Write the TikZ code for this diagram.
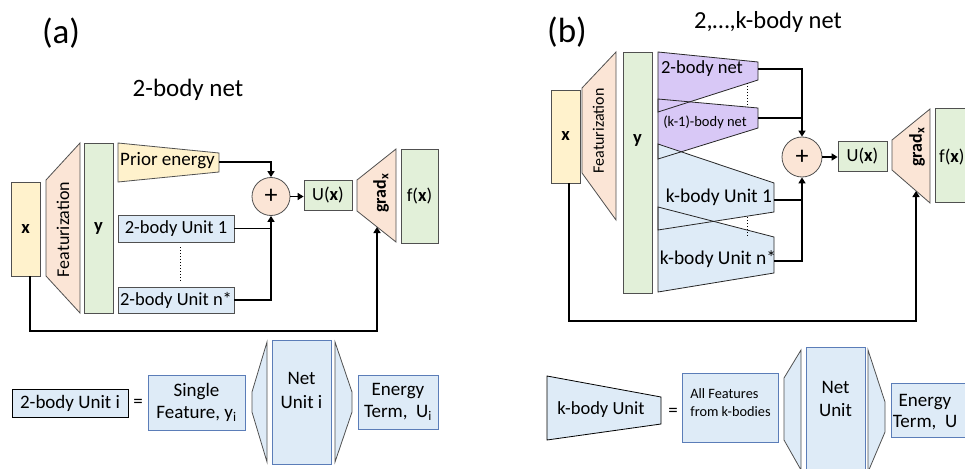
\documentclass[tikz,border=0pt]{standalone}
\usepackage{fontspec}
\setmainfont{Carlito}
\usetikzlibrary{arrows.meta,calc}
\definecolor{cyel}{HTML}{FFF2CC}
\definecolor{cpink}{HTML}{FBE5D6}
\definecolor{cgreen}{HTML}{E2F0D9}
\definecolor{cblue}{HTML}{DEEBF7}
\definecolor{cpurp}{HTML}{D8C8F6}
\definecolor{cbord}{HTML}{505050}
\definecolor{cbblue}{HTML}{5B7DB8}
\newcommand{\fsz}[2]{\fontsize{#1}{#2}\selectfont}
\tikzset{
  box/.style={draw=cbord, line width=0.8pt, inner sep=0pt, anchor=center, font=\fsz{18.5}{22}},
  shp/.style={draw=cbord, line width=0.8pt},
  conn/.style={line width=1.6pt, black},
  arr/.style={conn, -{Triangle[length=6pt,width=7pt]}},
  lbl/.style={inner sep=0pt, anchor=center, font=\fsz{18.5}{22}},
  plus/.style={circle, draw=cbord, line width=0.8pt, fill=cpink, inner sep=0pt, font=\fsz{26}{26}},
  dots/.style={dotted, line width=1pt}
}
\begin{document}
\begin{tikzpicture}[x=1pt,y=-1pt]
\useasboundingbox (0,0) rectangle (965,468);
\clip (0,0) rectangle (965,468);
% ---------- titles
\node[lbl, font=\fsz{35}{40}] (ta) at (61,33) {(a)};
\node[lbl, font=\fsz{25}{30}] (tna) at (188,90) {2-body net};
\node[lbl, font=\fsz{35}{40}] (tb) at (567,32) {(b)};
\node[lbl, font=\fsz{24.5}{30}] (tnb) at (768,22) {2,…,k-body net};
% ---------- panel (a)
\node[box, fill=cyel, minimum width=29, minimum height=94] (xa) at (25.5,229) {\textbf{x}};
\filldraw[shp, fill=cpink] (46,180) -- (80,143) -- (80,313) -- (46,276) -- cycle;
\node[lbl, rotate=90, font=\fsz{18}{22}] (feata) at (63,229.5) {Featurization};
\node[box, fill=cgreen, minimum width=29, minimum height=170] (ya) at (98.5,228) {\textbf{y}};
\filldraw[shp, fill=cyel] (118,143) -- (219,153) -- (219,172) -- (118,182) -- cycle;
\node[lbl, font=\fsz{19}{22}] (priora) at (167.5,161) {Prior energy};
\coordinate (priorout) at (219,162);
\node[box, fill=cblue, minimum width=116, minimum height=27] (u1a) at (176,228.5) {2-body Unit 1};
\node[box, fill=cblue, minimum width=116, minimum height=26] (una) at (176,300) {2-body Unit n*};
\coordinate (da1) at (180,247); \coordinate (da2) at (180,282);
\draw[dots] (da1) -- (da2);
\node[plus, minimum size=38] (plusa) at (271,196.5) {+};
\node[box, fill=cgreen, minimum width=48, minimum height=30] (Ua) at (328,195) {U(\textbf{x})};
\filldraw[shp, fill=cpink] (357,180) -- (396,149) -- (396,242) -- (357,211) -- cycle;
\node[lbl, rotate=90, font=\fsz{18}{22}] (grada) at (381,193) {\textbf{grad}\textsubscript{\textbf{x}}};
\node[box, fill=cgreen, minimum width=37, minimum height=94] (fa) at (419.5,196) {f(\textbf{x})};
\draw[arr] (priorout) -| (plusa.north);
\draw[conn] (u1a.east) -- (u1a.east -| plusa.south);
\draw[arr] (una.east) -| (plusa.south);
\draw[arr] (plusa.east) -- (plusa.east -| Ua.west);
\coordinate (fba) at (377,331);
\coordinate (gina) at (377,227);
\draw[arr] ([xshift=4.5pt]xa.south) |- (fba) -- (gina);
% ---------- panel (b)
\node[box, fill=cyel, minimum width=29, minimum height=93] (xb) at (565.5,136.5) {\textbf{x}};
\filldraw[shp, fill=cpink] (582,88) -- (616,52) -- (616,220) -- (582,173) -- cycle;
\node[lbl, rotate=90, font=\fsz{16}{20}] (featb) at (598.5,131) {Featurization};
\node[box, fill=cgreen, minimum width=29, minimum height=241] (yb) at (637.5,172.5) {};
\node[lbl] (ybl) at (637.5,140) {\textbf{y}};
\fill[cpurp] (658,52) -- (758,62) -- (758,80) -- (658,112) -- cycle;
\fill[cpurp] (658,99) -- (758,108) -- (758,128) -- (658,159) -- cycle;
\fill[cblue] (658,144) -- (774,183) -- (774,212) -- (658,230) -- cycle;
\fill[cblue] (658,207) -- (774,237) -- (774,273) -- (658,292) -- cycle;
\draw[shp, draw=black!85] (658,52) -- (758,62) -- (758,80) -- (658,112) -- cycle;
\draw[shp, draw=black!85] (658,99) -- (758,108) -- (758,128) -- (658,159) -- cycle;
\draw[shp, draw=black!85] (658,144) -- (774,183) -- (774,212) -- (658,230) -- cycle;
\draw[shp, draw=black!85] (658,207) -- (774,237) -- (774,273) -- (658,292) -- cycle;
\node[lbl] (twob) at (702,69) {2-body net};
\node[lbl, font=\fsz{14.5}{18}] (k1b) at (705,122) {(k-1)-body net};
\node[lbl, font=\fsz{19.5}{23}] (ku1b) at (719,197) {k-body Unit 1};
\node[lbl, font=\fsz{19.5}{23}] (kunb) at (718,259) {k-body Unit n*};
\coordinate (twoout) at (758,69);
\coordinate (k1out) at (758,118);
\coordinate (ku1out) at (774,200);
\coordinate (kunout) at (774,261);
\coordinate (db1) at (747,83); \coordinate (db2) at (747,107);
\coordinate (db3) at (747,217); \coordinate (db4) at (747,238);
\draw[dots] (db1) -- (db2);
\draw[dots] (db3) -- (db4);
\node[plus, minimum size=40] (plusb) at (802,157) {+};
\node[box, fill=cgreen, minimum width=49, minimum height=30] (Ub) at (862.5,156) {U(\textbf{x})};
\filldraw[shp, fill=cpink] (892,140) -- (930,109) -- (930,203) -- (892,170) -- cycle;
\node[lbl, rotate=90, font=\fsz{18}{22}] (gradb) at (917,147) {\textbf{grad}\textsubscript{\textbf{x}}};
\node[box, fill=cgreen, minimum width=60, minimum height=94] (fb) at (965,155) {};
\node[lbl, anchor=west] (fbl) at (939,157) {f(\textbf{x})};
\draw[arr] (twoout) -| (plusb.north);
\draw[conn] (k1out) -- (k1out -| plusb.north);
\draw[conn] (ku1out) -- (ku1out -| plusb.south);
\draw[arr] (kunout) -| (plusb.south);
\draw[arr] (plusb.east) -- (plusb.east -| Ub.west);
\coordinate (fbb) at (916,321);
\coordinate (ginb) at (916,191);
\draw[arr] ([xshift=3.5pt]xb.south) |- (fbb) -- (ginb);
% ---------- legend (a)
\node[box, draw=black, fill=cblue, minimum width=116, minimum height=28, font=\fsz{19}{22}] (l1) at (70,403) {2-body Unit i};
\node[lbl, font=\fsz{19}{22}] (eqa) at (138,403) {=};
\node[box, draw=cbblue, fill=cblue, minimum width=97, minimum height=55, align=center, font=\fsz{19}{22}] (sfa) at (196.5,402.5) {Single\\Feature, y\textsubscript{i}};
\filldraw[shp, fill=cblue] (267,342) -- (252,392) -- (252,412) -- (267,462) -- cycle;
\node[box, draw=cbblue, fill=cblue, minimum width=59, minimum height=124] (neta) at (301.5,402) {};
\node[lbl, align=center, font=\fsz{19}{24}] (netal) at (301.5,390) {Net\\Unit i};
\filldraw[shp, fill=cblue] (335,342) -- (352,392) -- (352,412) -- (335,462) -- cycle;
\node[box, draw=cbblue, fill=cblue, minimum width=80, minimum height=54, align=center, font=\fsz{19}{22}] (ena) at (398,402) {Energy\\Term,\ \ U\textsubscript{i}};
% ---------- legend (b)
\filldraw[draw=black, line width=0.8pt, fill=cblue] (547,376) -- (661,397) -- (661,424) -- (547,440) -- cycle;
\node[lbl] (klab) at (601,410) {k-body Unit};
\node[lbl, font=\fsz{19}{22}] (eqb) at (673,412) {=};
\node[box, draw=cbblue, fill=cblue, minimum width=96, minimum height=69] (afb) at (730,407.5) {};
\node[lbl, align=left, font=\fsz{14.3}{18}] (afl) at (730.5,403) {All Features\\from k-bodies};
\filldraw[shp, fill=cblue] (801,350) -- (784,378) -- (784,440) -- (801,470) -- cycle;
\node[box, draw=cbblue, fill=cblue, minimum width=59, minimum height=150] (netb) at (835.5,422) {};
\node[lbl, align=center, font=\fsz{19}{23}] (netbl) at (835.5,398.5) {Net\\Unit};
\filldraw[shp, fill=cblue] (868,350) -- (885,402) -- (885,432) -- (868,472) -- cycle;
\node[box, draw=cbblue, fill=cblue, minimum width=100, minimum height=54] (enb) at (941,410) {};
\node[lbl, align=center, font=\fsz{19}{21}] (enbl) at (925,412) {Energy\\Term,\ \ U};
\end{tikzpicture}
\end{document}
